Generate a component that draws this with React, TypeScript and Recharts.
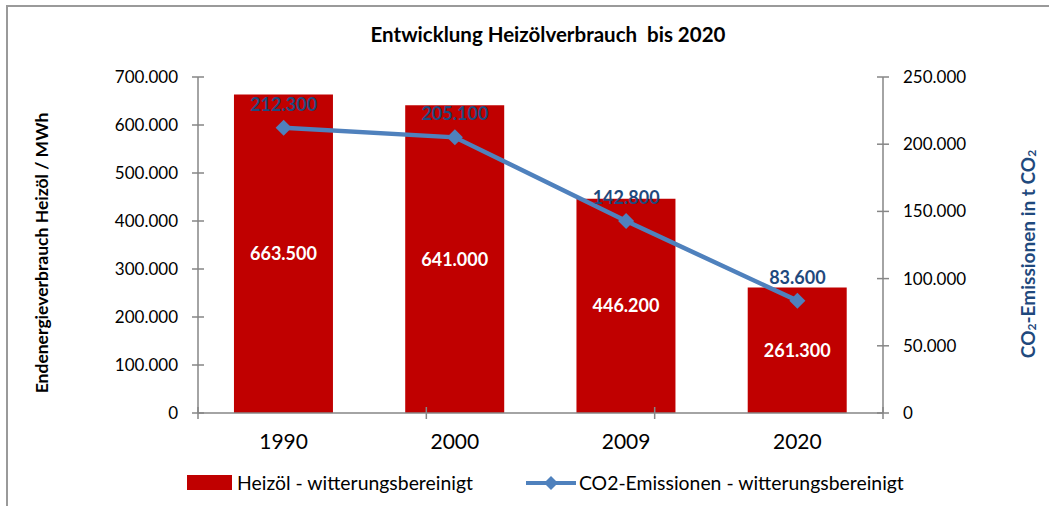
import React from "react";
import {
  ComposedChart,
  Bar,
  Line,
  XAxis,
  YAxis,
  LabelList,
  Legend,
} from "recharts";

const years = ["1990", "2000", "2009", "2020"];
const heizoel = [663500, 641000, 446200, 261300];
const co2 = [212300, 205100, 142800, 83600];
const leftTicks = [0, 100000, 200000, 300000, 400000, 500000, 600000, 700000];
const rightTicks = [0, 50000, 100000, 150000, 200000, 250000];
const boundaryTicks = [0, 1, 2, 3, 4];

const title = "Entwicklung Heizölverbrauch\u00A0\u00A0bis 2020";
const leftTitle = "Endenergieverbrauch Heizöl / MWh";
const barName = "Heizöl - witterungsbereinigt";
const lineName = "CO2-Emissionen - witterungsbereinigt";

const data = years.map((y, i) => ({ year: y, heizoel: heizoel[i], co2: co2[i] }));

const FONT = "Lato, 'Noto Sans', sans-serif";
const AXIS = "#868686";
const RED = "#C00000";
const BLUE = "#4F81BD";
const DARKBLUE = "#1F497D";

const fmt = (v: number) =>
  v.toLocaleString("de-DE", { maximumFractionDigits: 0 });

const LeftTick = (props: any) => {
  const { x, y, payload } = props;
  return (
    <g>
      <line x1={x - 6} x2={x + 6} y1={y} y2={y} stroke={AXIS} strokeWidth={1.5} />
      <text x={x - 20} y={y} dy={6} textAnchor="end" fontSize={17} fill="#000" fontFamily={FONT}>
        {fmt(payload.value)}
      </text>
    </g>
  );
};

const RightTick = (props: any) => {
  const { x, y, payload } = props;
  return (
    <g>
      <line x1={x - 6} x2={x + 6} y1={y} y2={y} stroke={AXIS} strokeWidth={1.5} />
      <text x={x + 20} y={y} dy={6} textAnchor="start" fontSize={17} fill="#000" fontFamily={FONT}>
        {fmt(payload.value)}
      </text>
    </g>
  );
};

const BoundTick = (props: any) => {
  const { x, y } = props;
  return <line x1={x} x2={x} y1={y - 6} y2={y + 6} stroke={AXIS} strokeWidth={1.5} />;
};

const CatTick = (props: any) => {
  const { x, y, payload } = props;
  return (
    <text x={x} y={y} dy={7} textAnchor="middle" fontSize={21} fill="#000" fontFamily={FONT}>
      {payload.value}
    </text>
  );
};

const LegendContent = () => (
  <div
    style={{
      display: "flex",
      alignItems: "center",
      fontFamily: FONT,
      fontSize: 19.4,
      color: "#000",
      paddingLeft: 187,
      whiteSpace: "nowrap",
    }}
  >
    <span style={{ display: "inline-block", width: 45, height: 15, background: RED }} />
    <span style={{ marginLeft: 5 }}>{barName}</span>
    <svg width={50} height={16} style={{ marginLeft: 53, flex: "none" }}>
      <line x1={0} x2={50} y1={8} y2={8} stroke={BLUE} strokeWidth={4} />
      <polygon points="25,1 32,8 25,15 18,8" fill={BLUE} />
    </svg>
    <span style={{ marginLeft: 3 }}>{lineName}</span>
  </div>
);

const Diamond = (props: any) => {
  const { cx, cy } = props;
  if (cx == null || cy == null) return null;
  return <polygon points={`${cx},${cy - 8} ${cx + 8},${cy} ${cx},${cy + 8} ${cx - 8},${cy}`} fill={BLUE} />;
};

export default function App() {
  return (
    <div style={{ position: "absolute", left: 0, top: 0, width: 1049, height: 506, background: "#fff", overflow: "hidden" }}>
      <div style={{ position: "absolute", left: 6, top: 5, width: 1043, height: 2, background: "#9A9A9A" }} />
      <div style={{ position: "absolute", left: 6, top: 5, width: 2, height: 501, background: "#9A9A9A" }} />
      <ComposedChart
        width={1049}
        height={506}
        data={data}
        margin={{ top: 77, right: 0, bottom: 48, left: 0 }}
        barCategoryGap="21%"
        style={{ position: "absolute", left: 0, top: 0 }}
      >
        <text x={548} y={42} textAnchor="middle" fontSize={20.5} fontWeight="bold" fontFamily={FONT} fill="#000">
          {title}
        </text>
        <XAxis
          xAxisId="bounds"
          type="number"
          domain={[0, 4]}
          ticks={boundaryTicks}
          allowDataOverflow
          height={5}
          stroke={AXIS}
          strokeWidth={1.5}
          tickLine={false}
          tickSize={0}
          tickMargin={0}
          tick={<BoundTick />}
          interval={0}
        />
        <XAxis
          xAxisId="cat"
          dataKey="year"
          height={40}
          axisLine={false}
          tickLine={false}
          tickSize={0}
          tickMargin={24}
          tick={<CatTick />}
          interval={0}
        />
        <YAxis
          yAxisId="left"
          orientation="left"
          width={198}
          domain={[0, 700000]}
          ticks={leftTicks}
          stroke={AXIS}
          strokeWidth={1.5}
          tickLine={false}
          tickSize={0}
          tickMargin={0}
          tick={<LeftTick />}
          interval={0}
          label={{
            content: () => {
              const cx = 41;
              const cy = 253;
              return (
                <text
                  x={cx}
                  y={cy}
                  transform={`rotate(-90 ${cx} ${cy})`}
                  textAnchor="middle"
                  dominantBaseline="central"
                  fontSize={17.5}
                  fontWeight="bold"
                  fontFamily={FONT}
                  fill="#000"
                >
                  {leftTitle}
                </text>
              );
            },
          }}
        />
        <YAxis
          yAxisId="right"
          orientation="right"
          width={166}
          domain={[0, 250000]}
          ticks={rightTicks}
          stroke={AXIS}
          strokeWidth={1.5}
          tickLine={false}
          tickSize={0}
          tickMargin={0}
          tick={<RightTick />}
          interval={0}
          label={{
            content: () => {
              const cx = 1027;
              const cy = 254;
              return (
                <text
                  x={cx}
                  y={cy}
                  transform={`rotate(-90 ${cx} ${cy})`}
                  textAnchor="middle"
                  dominantBaseline="central"
                  fontSize={19}
                  fontWeight="bold"
                  fontFamily={FONT}
                  fill={DARKBLUE}
                >
                  CO
                  <tspan fontSize={12} dy={4}>2</tspan>
                  <tspan dy={-4}>-Emissionen in t CO</tspan>
                  <tspan fontSize={12} dy={4}>2</tspan>
                </text>
              );
            },
          }}
        />
        <Legend
          verticalAlign="middle"
          align="center"
          layout="horizontal"
          wrapperStyle={{ top: 471, left: 0, width: 1049, height: 24 }}
          content={<LegendContent />}
        />
        <Bar
          xAxisId="cat"
          yAxisId="left"
          dataKey="heizoel"
          name={barName}
          fill={RED}
          isAnimationActive={false}
        >
          <LabelList
            dataKey="heizoel"
            position="center"
            formatter={(v: any) => fmt(Number(v))}
            fill="#fff"
            fontSize={18}
            fontWeight="bold"
            fontFamily={FONT}
          />
        </Bar>
        <Line
          xAxisId="cat"
          yAxisId="right"
          dataKey="co2"
          name={lineName}
          stroke={BLUE}
          strokeWidth={4.5}
          dot={<Diamond />}
          activeDot={false}
          isAnimationActive={false}
        >
          <LabelList
            dataKey="co2"
            position="top"
            offset={17}
            formatter={(v: any) => fmt(Number(v))}
            fill={DARKBLUE}
            fontSize={18}
            fontWeight="bold"
            fontFamily={FONT}
          />
        </Line>
      </ComposedChart>
    </div>
  );
}
